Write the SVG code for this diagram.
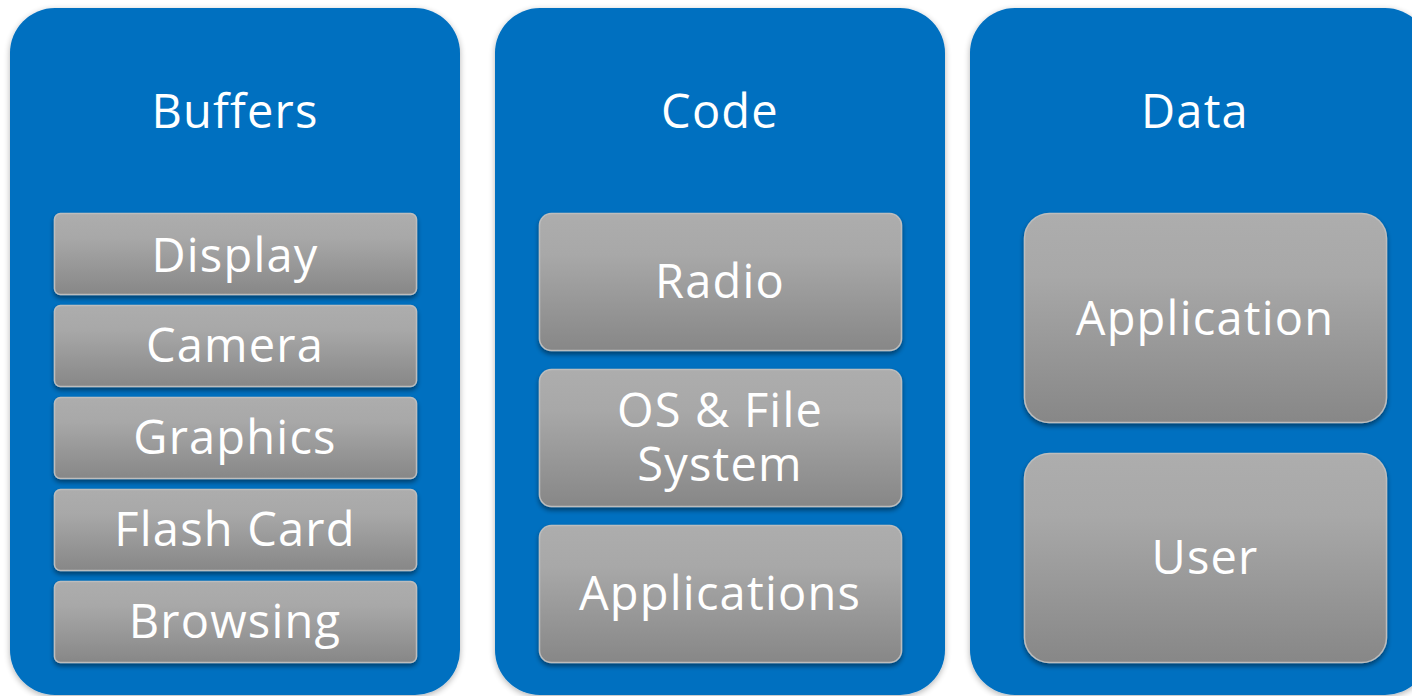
<svg xmlns="http://www.w3.org/2000/svg" width="1412" height="696" viewBox="0 0 1412 696">
<defs>
<linearGradient id="g" x1="0" y1="0" x2="0" y2="1">
<stop offset="0" stop-color="#adadad"/>
<stop offset="0.3" stop-color="#a8a8a8"/>
<stop offset="1" stop-color="#878787"/>
</linearGradient>
<filter id="ps" x="-5%" y="-5%" width="110%" height="110%">
<feGaussianBlur in="SourceAlpha" stdDeviation="3"/>
<feOffset dx="0" dy="2" result="b"/>
<feComponentTransfer><feFuncA type="linear" slope="0.3"/></feComponentTransfer>
<feMerge><feMergeNode/><feMergeNode in="SourceGraphic"/></feMerge>
</filter>
<filter id="is" x="-5%" y="-10%" width="110%" height="125%">
<feGaussianBlur in="SourceAlpha" stdDeviation="2.5"/>
<feOffset dx="0" dy="3" result="b"/>
<feComponentTransfer><feFuncA type="linear" slope="0.45"/></feComponentTransfer>
<feMerge><feMergeNode/><feMergeNode in="SourceGraphic"/></feMerge>
</filter>
</defs>
<style>
.panel{fill:#0070c0;filter:url(#ps)}
.item{fill:url(#g);stroke:#bdbdbd;stroke-width:1.5;filter:url(#is)}
text{font-family:"Open Sans","Liberation Sans",sans-serif;font-size:47px;letter-spacing:1.2px;fill:#ffffff;text-anchor:middle}
</style>
<rect width="1412" height="696" fill="#ffffff"/>
<g id="buffers">
<rect class="panel" x="10" y="8" width="450" height="687" rx="45"/>
<text x="235" y="128">Buffers</text>
</g>
<g id="display"><rect class="item" x="54.5" y="213.5" width="362" height="81" rx="6"/><text x="235" y="272">Display</text></g>
<g id="camera"><rect class="item" x="54.5" y="305.5" width="362" height="81" rx="6"/><text x="235" y="362">Camera</text></g>
<g id="graphics"><rect class="item" x="54.5" y="397.5" width="362" height="81" rx="6"/><text x="235" y="454">Graphics</text></g>
<g id="flashcard"><rect class="item" x="54.5" y="489.5" width="362" height="81" rx="6"/><text x="235" y="546">Flash Card</text></g>
<g id="browsing"><rect class="item" x="54.5" y="581.5" width="362" height="81" rx="6"/><text x="235" y="638">Browsing</text></g>
<g id="code">
<rect class="panel" x="495" y="8" width="450" height="687" rx="45"/>
<text x="720" y="128">Code</text>
</g>
<g id="radio"><rect class="item" x="539.5" y="213.5" width="362" height="137" rx="12"/><text x="720" y="298">Radio</text></g>
<g id="osfs"><rect class="item" x="539.5" y="369.5" width="362" height="137" rx="12"/><text x="720" y="427">OS &amp; File</text><text x="720" y="481">System</text></g>
<g id="applications"><rect class="item" x="539.5" y="525.5" width="362" height="137" rx="12"/><text x="720" y="610">Applications</text></g>
<g id="data">
<rect class="panel" x="970" y="8" width="460" height="687" rx="45"/>
<text x="1195" y="128">Data</text>
</g>
<g id="application"><rect class="item" x="1024.5" y="213.5" width="362" height="209" rx="25"/><text x="1205" y="335">Application</text></g>
<g id="user"><rect class="item" x="1024.5" y="453.5" width="362" height="209" rx="25"/><text x="1205" y="574">User</text></g>
<g id="connectors"></g>
</svg>
